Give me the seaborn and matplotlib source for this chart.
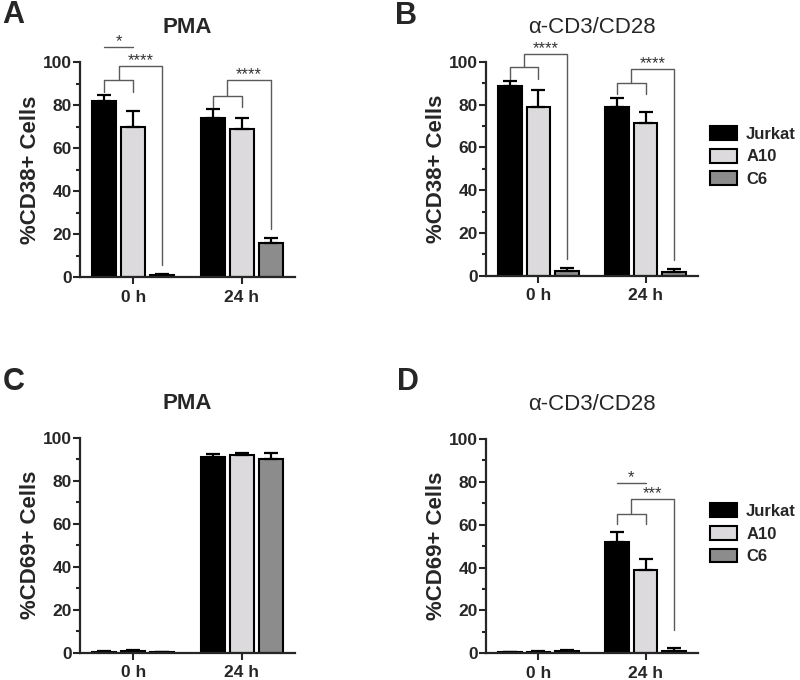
import pandas as pd
import matplotlib
matplotlib.use("Agg")
import matplotlib.pyplot as plt
import seaborn as sns
from matplotlib.patches import Patch
from matplotlib.ticker import MultipleLocator

# time points and cell lines
times = ["0 h", "24 h"]
cell_lines = ["Jurkat", "A10", "C6"]
colors = ["#000000", "#dcdadc", "#8c8c8c"]

# means (rows = cell line, cols = time point) and SD
cd38_pma = [[82, 74], [70, 69], [1, 16]]
cd38_pma_sd = [[2.5, 4], [7, 5], [0.3, 2]]
cd38_cd3 = [[89, 79], [79, 71.5], [2, 1.5]]
cd38_cd3_sd = [[2, 4], [8, 5], [1.8, 1.5]]
cd69_pma = [[0.5, 91], [0.7, 92], [0.2, 90]]
cd69_pma_sd = [[0.3, 1.5], [0.4, 0.8], [0.1, 3]]
cd69_cd3 = [[0.5, 52], [0.8, 39], [1.0, 1.2]]
cd69_cd3_sd = [[0.2, 4.5], [0.3, 5], [0.3, 1.3]]

# brackets: (time idx, low, mid, top, end, label)
sig_a = [(0, 86, 91.5, 98, 5.5, "****"), (1, 79, 84.3, 91.6, 22.5, "****")]
sig_b = [(0, 92, 97.7, 103.6, 8, "****"), (1, 85, 90, 96.6, 7.3, "****")]
sig_d = [(1, 60.3, 65, 72, 11, "***")]
# Jurkat vs A10 line: (time idx, height, label)
pair_a = [(0, 107, "*")]
pair_d = [(1, 79.6, "*")]

sns.set_style("ticks")
plt.rcParams["font.family"] = ["Liberation Sans", "DejaVu Sans"]
plt.rcParams["font.weight"] = "bold"


def long_df(means):
    rows = []
    for i, cl in enumerate(cell_lines):
        for j, t in enumerate(times):
            rows.append({"time": t, "line": cl, "value": means[i][j]})
    return pd.DataFrame(rows)


def draw_panel(ax, means, sds, title, ylabel, title_bold, sig=(), pair=(), legend=False):
    df = long_df(means)
    sns.barplot(data=df, x="time", y="value", hue="line", order=times,
                hue_order=cell_lines, palette=colors, errorbar=None,
                edgecolor="black", linewidth=1.5, gap=0.17, width=0.8,
                legend=False, ax=ax)
    bars = list(ax.containers)
    # bar centres per cell line, per time point
    xc = [[p.get_x() + p.get_width() / 2 for p in c.patches] for c in bars]
    for i, cont in enumerate(bars):
        for j, p in enumerate(cont.patches):
            ax.errorbar(xc[i][j], p.get_height(), yerr=[[0], [sds[i][j]]],
                        fmt="none", ecolor="black", elinewidth=1.6,
                        capsize=5, capthick=1.6, zorder=1)
    ax.set_ylim(0, 100)
    ax.set_xlim(-0.49, 1.49)
    ax.yaxis.set_major_locator(MultipleLocator(20))
    ax.yaxis.set_minor_locator(MultipleLocator(10))
    ax.tick_params(axis="both", which="major", length=5, width=1.5,
                   labelsize=12.5)
    ax.tick_params(axis="y", which="major", pad=1)
    ax.tick_params(axis="x", which="major", pad=4)
    ax.tick_params(axis="y", which="minor", length=3, width=1.5)
    for lab in ax.get_xticklabels() + ax.get_yticklabels():
        lab.set_fontweight("bold")
    for s in ["left", "bottom"]:
        ax.spines[s].set_linewidth(1.6)
    sns.despine(ax=ax)
    ax.set_xlabel("")
    ax.set_ylabel(ylabel, fontsize=16, fontweight="bold", labelpad=1)
    ax.set_title(title, fontsize=16, fontweight="bold" if title_bold else "normal", pad=21)

    gc = "#5a5a5a"
    for (t, low, mid, top, end, lab) in sig:
        xj, xa, xs = xc[0][t], xc[1][t], xc[2][t]
        xm = (xj + xa) / 2
        ax.plot([xj, xj, xa, xa], [low, mid, mid, low], color=gc, lw=1,
                clip_on=False)
        ax.plot([xm, xm, xs, xs], [mid, top, top, end], color=gc, lw=1,
                clip_on=False)
        ax.text((xm + xs) / 2, top + 2.5, lab, ha="center", va="center",
                fontsize=12, fontweight="normal", color="#333333")
    for (t, h, lab) in pair:
        xj, xa = xc[0][t], xc[1][t]
        ax.plot([xj, xa], [h, h], color=gc, lw=1, clip_on=False)
        ax.text((xj + xa) / 2, h + 2.5, lab, ha="center", va="center",
                fontsize=12, fontweight="normal", color="#333333")

    if legend:
        handles = [Patch(facecolor=c, edgecolor="black", linewidth=1.5)
                   for c in colors]
        ax.legend(handles, cell_lines, loc="upper left",
                  bbox_to_anchor=(1.058, 0.70), frameon=False,
                  borderaxespad=0, borderpad=0,
                  prop={"weight": "bold", "size": 12},
                  handlelength=1.6, handleheight=0.9, labelspacing=0.42,
                  handletextpad=0.55)


fig = plt.figure(figsize=(8, 6.8), dpi=100)
ax_a = fig.add_axes([0.100, 0.5926, 0.269, 0.3162])
ax_b = fig.add_axes([0.6075, 0.5946, 0.265, 0.3142])
ax_c = fig.add_axes([0.100, 0.0401, 0.269, 0.3162])
ax_d = fig.add_axes([0.6075, 0.0393, 0.265, 0.3151])

draw_panel(ax_a, cd38_pma, cd38_pma_sd, "PMA", "%CD38+ Cells", True,
           sig=sig_a, pair=pair_a)
draw_panel(ax_b, cd38_cd3, cd38_cd3_sd, "α-CD3/CD28", "%CD38+ Cells", False,
           sig=sig_b, legend=True)
draw_panel(ax_c, cd69_pma, cd69_pma_sd, "PMA", "%CD69+ Cells", True)
draw_panel(ax_d, cd69_cd3, cd69_cd3_sd, "α-CD3/CD28", "%CD69+ Cells", False,
           sig=sig_d, pair=pair_d, legend=True)

# panel letters
for letter, x, y in [("A", 0.003, 0.966), ("B", 0.494, 0.965),
                     ("C", 0.003, 0.4265), ("D", 0.496, 0.4265)]:
    fig.text(x, y, letter, fontsize=22, fontweight="bold", va="baseline", ha="left")

fig.savefig("out.png", dpi=100)
